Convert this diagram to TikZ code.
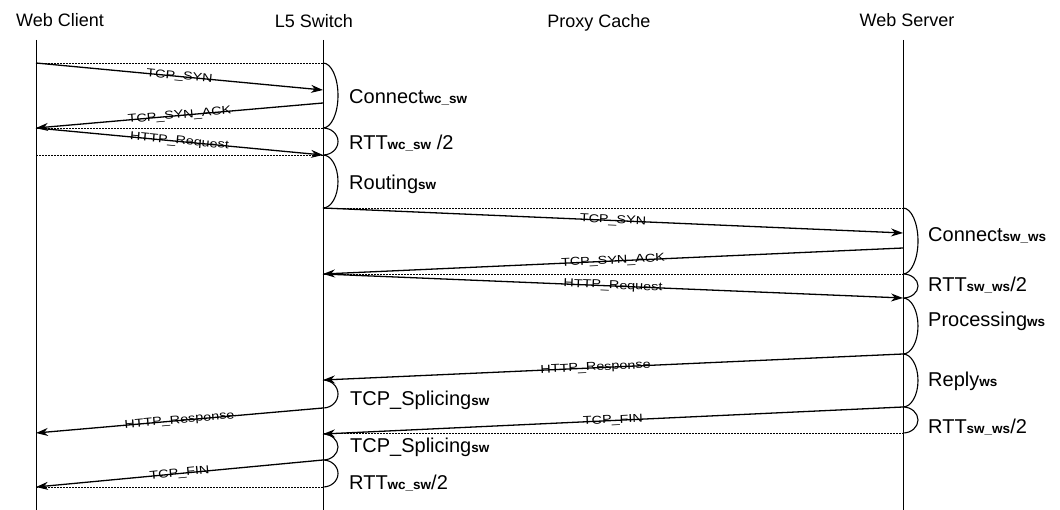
\documentclass[tikz,border=0pt]{standalone}
\usepackage{fontspec}
\setmainfont{Liberation Sans}
\usepackage{graphicx}
\usetikzlibrary{arrows.meta}
\newcommand\subs[1]{{\fontsize{13.5}{14}\selectfont\bfseries #1}}
\newcommand\msgtxt[1]{\scalebox{1.25}[1]{\fontsize{11.5}{12}\selectfont #1}}
\tikzset{
  lifeln/.style={line width=0.9pt},
  msgln/.style={line width=1.3pt,-{Stealth[length=12pt,width=8pt]}},
  guide/.style={line width=0.6pt,dash pattern=on 2pt off 1pt},
  brc/.style={line width=1.1pt},
  head/.style={font=\fontsize{18}{20}\selectfont,anchor=base,inner sep=0pt},
  tlab/.style={font=\fontsize{20}{22}\selectfont,anchor=base west,inner sep=0pt},
  mlab/.style={sloped,inner sep=0pt,pos=0.5}
}
\begin{document}
\begin{tikzpicture}[x=1pt,y=-1pt]
\useasboundingbox (0,0) rectangle (1060,510);
% headings
\node[head] (hwc) at (60,27) {Web Client};
\node[head] (hsw) at (314,28) {L5 Switch};
\node[head] (hpc) at (599,28) {Proxy Cache};
\node[head] (hws) at (907,27) {Web Server};
% lifelines
\coordinate (ctop) at (36,40);   \coordinate (cbot) at (36,510);
\coordinate (stop) at (323,40);  \coordinate (sbot) at (323,510);
\coordinate (wtop) at (903,40);  \coordinate (wbot) at (903,510);
\draw[lifeln] (ctop) -- (cbot);
\draw[lifeln] (stop) -- (sbot);
\draw[lifeln] (wtop) -- (wbot);
% event points
\foreach \y in {63,128,155,433,487} {\coordinate (c\y) at (36,\y);}
\foreach \y in {63,90,103,128,155,208,274,380,408,433,434,460,487} {\coordinate (s\y) at (323,\y);}
\foreach \y in {208,233,248,274,298,354,407,433} {\coordinate (w\y) at (903,\y);}
% dashed guides
\draw[guide] (c63) -- (s63);
\draw[guide] (c128) -- (s128);
\draw[guide] (c155) -- (s155);
\draw[guide] (s208) -- (w208);
\draw[guide] (s274) -- (w274);
\draw[guide] (s433) -- (w433);
\draw[guide] (c487) -- (s487);
% messages
\draw[msgln] (c63) -- node[mlab] {\msgtxt{TCP\_SYN}} (s90);
\draw[msgln] (s103) -- node[mlab] {\msgtxt{TCP\_SYN\_ACK}} (c128);
\draw[msgln] (c128) -- node[mlab] {\msgtxt{HTTP\_Request}} (s155);
\draw[msgln] (s208) -- node[mlab] {\msgtxt{TCP\_SYN}} (w233);
\draw[msgln] (w248) -- node[mlab] {\msgtxt{TCP\_SYN\_ACK}} (s274);
\draw[msgln] (s274) -- node[mlab] {\msgtxt{HTTP\_Request}} (w298);
\draw[msgln] (w354) -- node[mlab,pos=0.53] {\msgtxt{HTTP\_Response}} (s380);
\draw[msgln] (s408) -- node[mlab] {\msgtxt{HTTP\_Response}} (c433);
\draw[msgln] (w407) -- node[mlab] {\msgtxt{TCP\_FIN}} (s434);
\draw[msgln] (s460) -- node[mlab] {\msgtxt{TCP\_FIN}} (c487);
% period braces
\foreach \p/\a/\b in {s63/63/128, s128/128/155, s155/155/208, w208/208/274, w274/274/298, w298/298/354, w354/354/407, w407/407/433, s380/380/408, s434/434/460, s460/460/487} {
  \pgfmathsetmacro\ry{(\b-\a)/2}
  \draw[brc] (\p) arc[start angle=90,end angle=-90,x radius=15pt,y radius=\ry pt];
}
% period labels
\node[tlab] (lconw) at (349,104) {Connect\subs{wc\_sw}};
\node[tlab] (lrttw) at (349,150) {RTT\subs{wc\_sw} /2};
\node[tlab] (lrout) at (349,190) {Routing\subs{sw}};
\node[tlab] (lcons) at (928,242) {Connect\subs{sw\_ws}};
\node[tlab] (lrtts) at (928,292) {RTT\subs{sw\_ws}/2};
\node[tlab] (lproc) at (928,327) {Processing\subs{ws}};
\node[tlab] (lrepl) at (928,387) {Reply\subs{ws}};
\node[tlab] (lrtts2) at (928,433) {RTT\subs{sw\_ws}/2};
\node[tlab] (lspl1) at (350,406) {TCP\_Splicing\subs{sw}};
\node[tlab] (lspl2) at (350,452) {TCP\_Splicing\subs{sw}};
\node[tlab] (lrttw2) at (349,489) {RTT\subs{wc\_sw}/2};
\end{tikzpicture}
\end{document}
